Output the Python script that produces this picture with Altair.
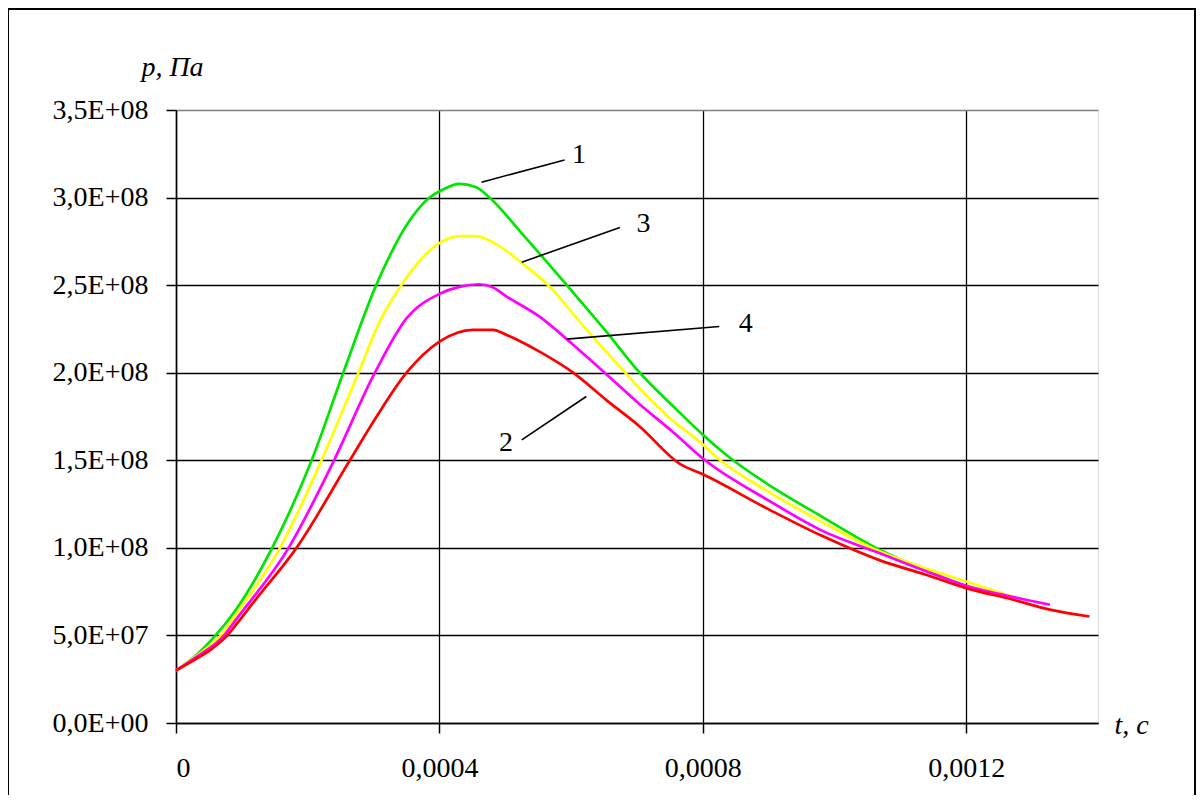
import altair as alt
import pandas as pd

# time in units of 1e-4 s, pressure in units of 1e8 Pa
t_1 = [0, 0.30, 0.60, 0.91, 1.46, 2.06, 2.54, 3.04, 3.55, 3.85, 4.05, 4.30, 4.55, 4.76, 5.24, 5.98, 6.50, 7.04, 7.60, 8.00, 8.46, 9.00, 9.80, 10.68, 11.40, 12.00, 12.40]
p_1 = [0.30, 0.385, 0.50, 0.647, 1.00, 1.50, 2.00, 2.50, 2.87, 3.00, 3.045, 3.078, 3.06, 3.00, 2.80, 2.48, 2.25, 2.00, 1.79, 1.646, 1.50, 1.36, 1.18, 0.99, 0.87, 0.78, 0.745]

t_3 = [0, 0.30, 0.68, 0.91, 1.58, 2.21, 2.77, 3.09, 3.42, 4.00, 4.30, 4.55, 4.92, 5.24, 5.65, 6.20, 6.82, 7.04, 7.50, 8.00, 8.20, 9.00, 9.80, 10.68, 11.40, 12.00, 12.68]
p_3 = [0.30, 0.38, 0.50, 0.62, 1.00, 1.50, 2.00, 2.29, 2.50, 2.74, 2.78, 2.78, 2.72, 2.63, 2.50, 2.26, 2.00, 1.91, 1.74, 1.59, 1.52, 1.32, 1.15, 0.98, 0.88, 0.808, 0.723]

t_4 = [0, 0.30, 0.73, 0.91, 1.71, 2.40, 3.02, 3.50, 4.00, 4.30, 4.60, 4.80, 5.02, 5.52, 6.03, 6.48, 7.04, 7.55, 8.00, 9.00, 9.80, 10.68, 11.40, 12.00, 12.70, 13.27]
p_4 = [0.30, 0.375, 0.50, 0.59, 1.00, 1.50, 2.00, 2.31, 2.45, 2.49, 2.505, 2.49, 2.435, 2.32, 2.16, 2.01, 1.82, 1.66, 1.51, 1.27, 1.10, 0.97, 0.865, 0.784, 0.72, 0.675]

t_2 = [0, 0.30, 0.55, 0.78, 0.91, 1.20, 1.83, 2.64, 3.03, 3.50, 4.00, 4.51, 4.81, 5.02, 5.52, 6.03, 6.53, 7.04, 7.65, 8.00, 9.00, 9.80, 10.68, 11.40, 12.00, 12.70, 13.27, 13.87]
p_2 = [0.30, 0.365, 0.425, 0.50, 0.56, 0.70, 1.00, 1.50, 1.74, 2.00, 2.178, 2.245, 2.245, 2.216, 2.12, 2.00, 1.845, 1.693, 1.48, 1.42, 1.22, 1.07, 0.93, 0.845, 0.77, 0.705, 0.647, 0.608]

curve_names = ["1", "3", "4", "2"]
curve_colors = ["#00E600", "#FFFF00", "#FF00FF", "#FF0000"]

# leader lines and labels (same units)
lbl_text = ["1", "3", "4", "2"]
lbl_t = [6.12, 7.10, 8.65, 5.01]
lbl_p = [3.244, 2.85, 2.279, 1.598]
lead_t1 = [4.64, 5.25, 5.93, 5.25]
lead_p1 = [3.088, 2.631, 2.192, 1.617]
lead_t2 = [5.90, 6.74, 8.25, 6.23]
lead_p2 = [3.215, 2.829, 2.264, 1.864]

x_ticks = [0, 0.0004, 0.0008, 0.0012]
y_ticks = [0, 5e7, 1e8, 1.5e8, 2e8, 2.5e8, 3e8, 3.5e8]

FONT = "Liberation Serif"
FS = 28

series = {"1": (t_1, p_1), "3": (t_3, p_3), "4": (t_4, p_4), "2": (t_2, p_2)}
rows = []
for name in curve_names:
    ts, ps = series[name]
    for t, p in zip(ts, ps):
        rows.append({"curve": name, "t": t * 1e-4, "p": p * 1e8})
df = pd.DataFrame(rows)

lab_df = pd.DataFrame({
    "text": lbl_text,
    "t": [v * 1e-4 for v in lbl_t],
    "p": [v * 1e8 for v in lbl_p],
    "t1": [v * 1e-4 for v in lead_t1],
    "p1": [v * 1e8 for v in lead_p1],
    "t2": [v * 1e-4 for v in lead_t2],
    "p2": [v * 1e8 for v in lead_p2],
})

x_scale = alt.Scale(domain=[0, 0.0014], nice=False, zero=False)
y_scale = alt.Scale(domain=[0, 3.5e8], nice=False)

x_axis = alt.Axis(
    values=x_ticks,
    labelExpr="replace(format(datum.value, '~g'), '.', ',')",
    title="t, c",
    titleFont=FONT, titleFontStyle="italic", titleFontWeight="normal", titleFontSize=FS,
    titleAnchor="start", titleAlign="center", titleBaseline="alphabetic",
    titleX=955, titleY=10,
    labelFont=FONT, labelFontSize=FS, labelColor="black", labelPadding=21,
    tickSize=10, tickColor="black", tickWidth=1.5,
    domainColor="black", domainWidth=1.5,
    grid=True, gridColor="black", gridWidth=1.3,
)
y_axis = alt.Axis(
    values=y_ticks,
    labelExpr="replace(replace(format(datum.value, '.1e'), '.', ','), 'e+', 'E+0')",
    title="p, Па",
    titleFont=FONT, titleFontStyle="italic", titleFontWeight="normal", titleFontSize=FS,
    titleAngle=0, titleAlign="center", titleBaseline="alphabetic",
    titleX=-4, titleY=-35,
    labelFont=FONT, labelFontSize=FS, labelColor="black", labelPadding=18,
    tickSize=10, tickColor="black", tickWidth=1.5,
    domainColor="black", domainWidth=1.5,
    grid=True,
    gridColor={"condition": {"test": "datum.value === 350000000", "value": "#808080"}, "value": "black"},
    gridWidth=1.3,
)

border = alt.Chart(pd.DataFrame({"a": [0]})).mark_rect(
    filled=False, stroke="black", strokeWidth=2
).encode(
    x=alt.value(-168), x2=alt.value(1019), y=alt.value(-101), y2=alt.value(720)
)

base = alt.Chart(df).mark_line(opacity=0).encode(
    x=alt.X("t:Q", scale=x_scale, axis=x_axis),
    y=alt.Y("p:Q", scale=y_scale, axis=y_axis),
    detail="curve:N",
)

layers = [border, base]
for name, col in zip(curve_names, curve_colors):
    layers.append(
        alt.Chart(df).transform_filter(alt.datum.curve == name).mark_line(
            color=col, strokeWidth=2.7, interpolate="monotone"
        ).encode(x=alt.X("t:Q", scale=x_scale), y=alt.Y("p:Q", scale=y_scale))
    )

leaders = alt.Chart(lab_df).mark_rule(color="black", strokeWidth=1.6).encode(
    x=alt.X("t1:Q", scale=x_scale), x2="t2:Q",
    y=alt.Y("p1:Q", scale=y_scale), y2="p2:Q",
)
labels = alt.Chart(lab_df).mark_text(
    font=FONT, fontSize=FS, color="black", align="center", baseline="middle"
).encode(
    x=alt.X("t:Q", scale=x_scale), y=alt.Y("p:Q", scale=y_scale), text="text:N"
)
layers += [leaders, labels]

chart = alt.layer(*layers).properties(
    width=922, height=613,
    padding={"left": 168, "top": 102, "right": 98, "bottom": 72},
    autosize=alt.AutoSizeParams(type="none"),
).configure_view(
    stroke="#808080", strokeWidth=1.5
).configure(background="white")

chart.save("out.html", embed_options={"renderer": "svg", "actions": False})
